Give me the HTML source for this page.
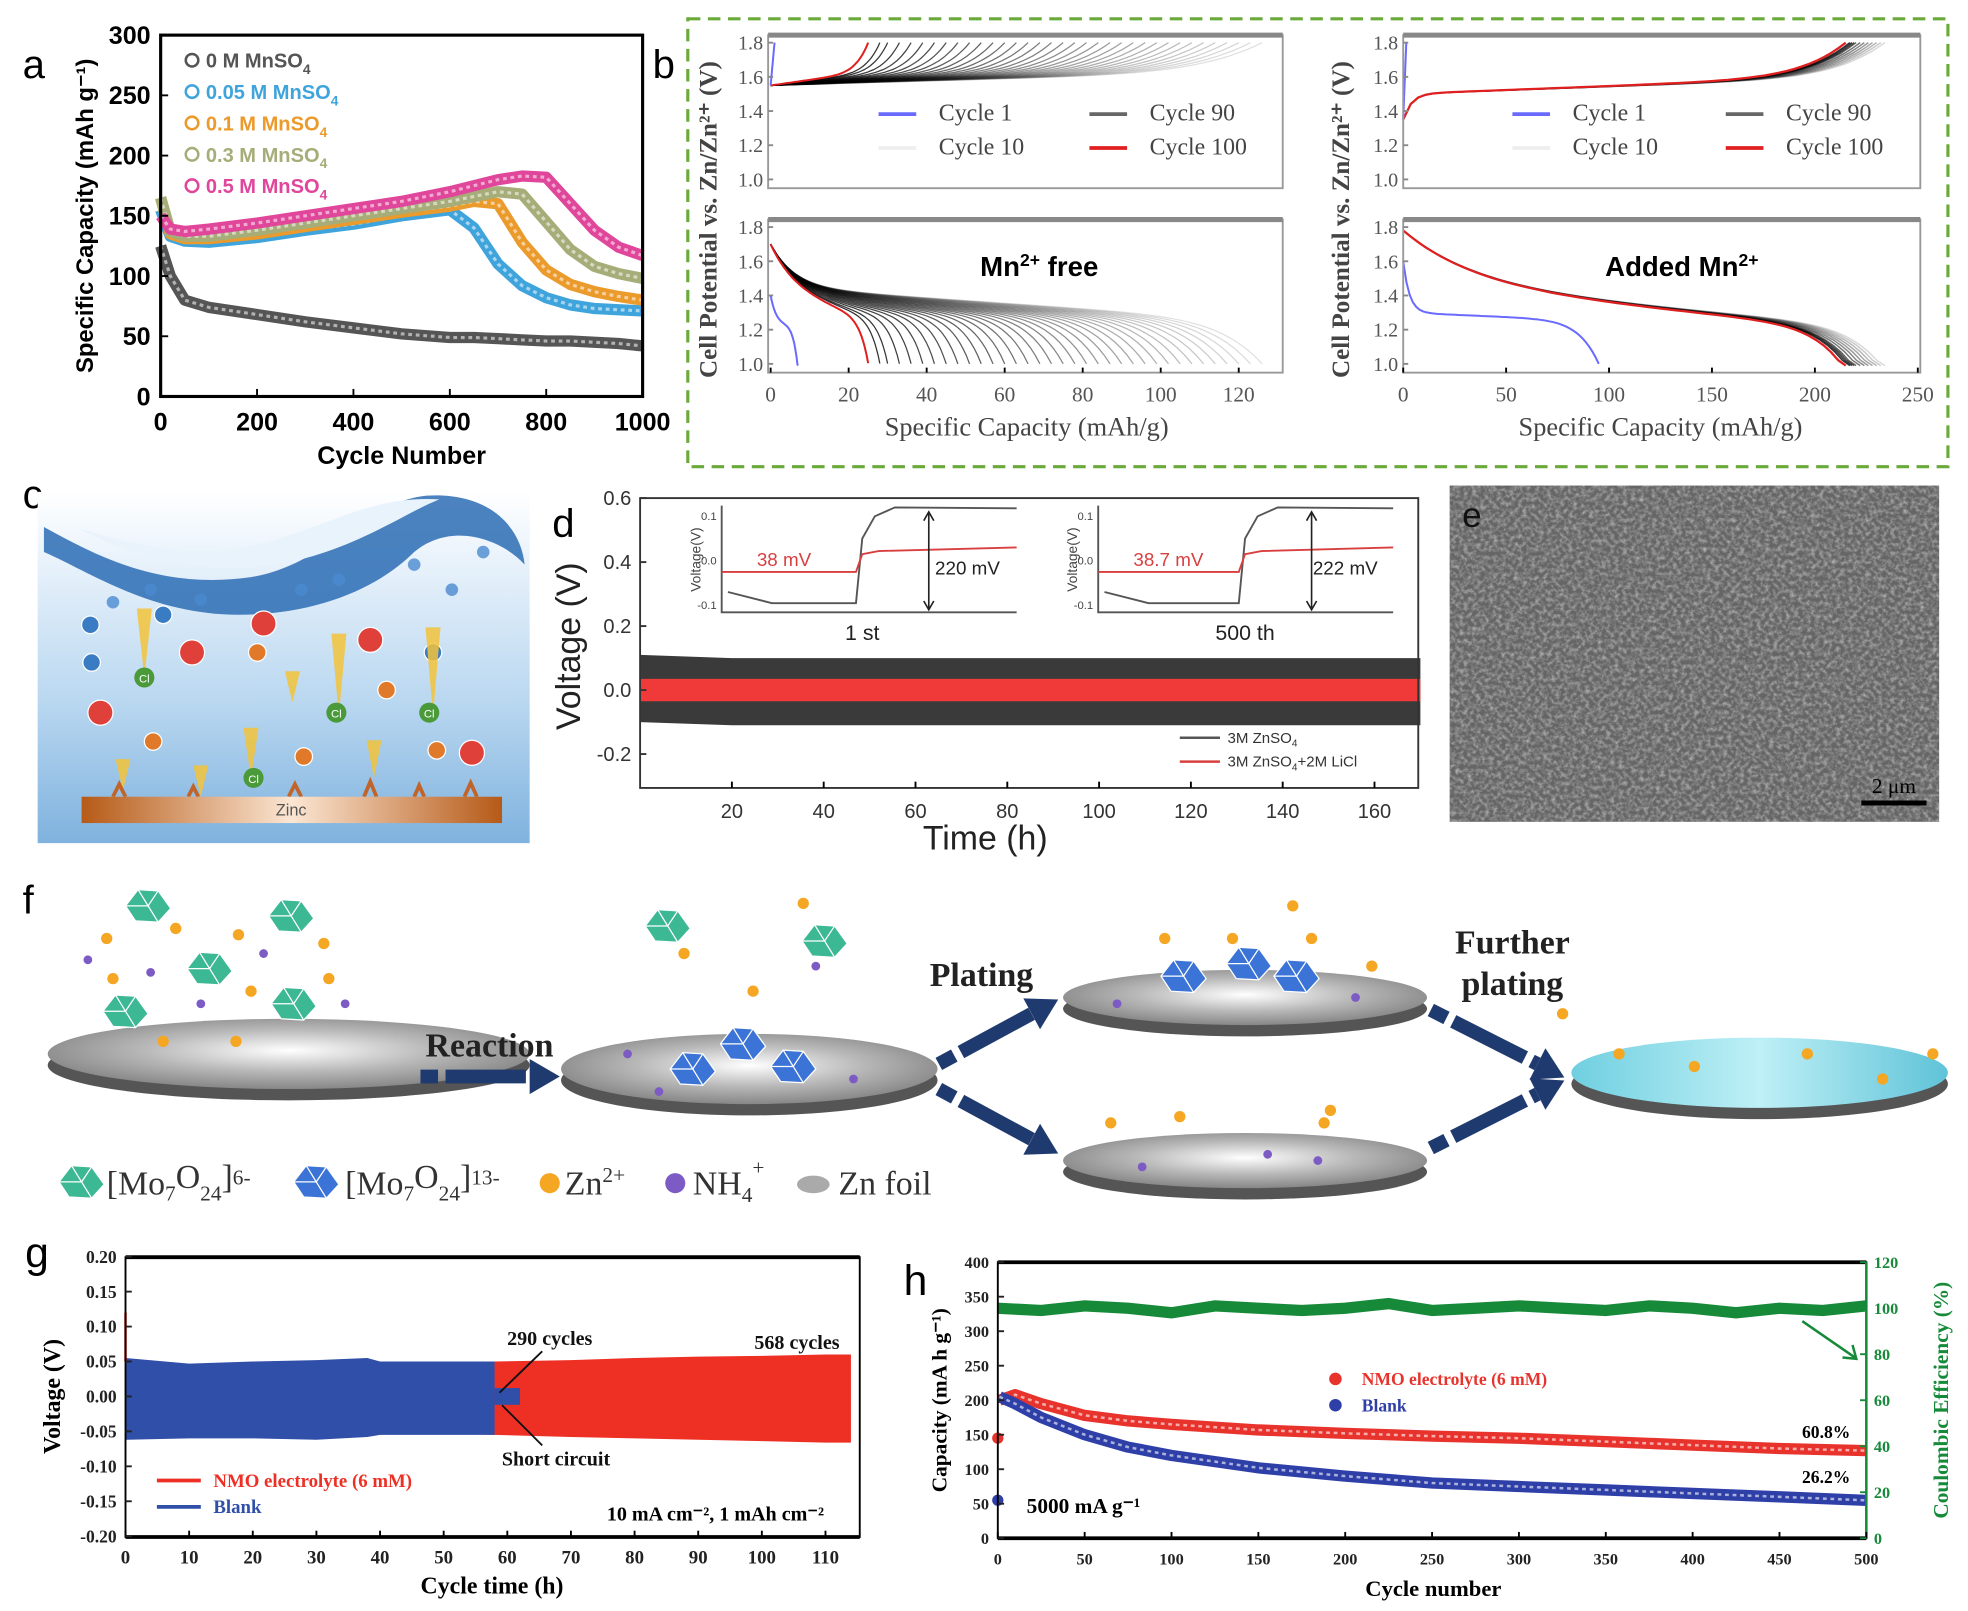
<!DOCTYPE html>
<html><head><meta charset="utf-8">
<style>
html,body{margin:0;padding:0;background:#fff;}
svg{display:block;}
text{font-family:"Liberation Sans",sans-serif;}
.serif{font-family:"Liberation Serif",serif;}
</style></head>
<body>
<svg id="fig" xmlns="http://www.w3.org/2000/svg" width="1968" height="1611" viewBox="0 0 1568 1284" preserveAspectRatio="none">
<defs>
<linearGradient id="water" x1="0" y1="0" x2="0" y2="1"><stop offset="0" stop-color="#ffffff"/><stop offset="0.2" stop-color="#e8f2fb"/><stop offset="0.6" stop-color="#b9d7f0"/><stop offset="1" stop-color="#7fb2de"/></linearGradient>
<linearGradient id="zinc" x1="0" y1="0" x2="1" y2="0"><stop offset="0" stop-color="#b65a17"/><stop offset="0.5" stop-color="#fbe6d3"/><stop offset="1" stop-color="#b65a17"/></linearGradient>
<radialGradient id="disc" cx="0.5" cy="0.45" r="0.6"><stop offset="0" stop-color="#ffffff"/><stop offset="0.5" stop-color="#b8b8b8"/><stop offset="1" stop-color="#7d7d7d"/></radialGradient>
<linearGradient id="cyan" x1="0" y1="0" x2="1" y2="0"><stop offset="0" stop-color="#6fcfe0"/><stop offset="0.5" stop-color="#bff0f6"/><stop offset="1" stop-color="#5fc3d8"/></linearGradient>
<filter id="sem" x="0" y="0" width="1" height="1"><feTurbulence type="fractalNoise" baseFrequency="0.3" numOctaves="3" seed="7"/><feColorMatrix type="matrix" values="0 0 0 0 0.66  0 0 0 0 0.66  0 0 0 0 0.66  1.3 0 0 0 -0.5"/><feComposite in2="SourceGraphic" operator="in"/></filter>
</defs>
<rect x="0" y="0" width="1568" height="1284" fill="#fff"/>
<g id="pa"></g>
<g id="pb"></g>
<g id="pc"></g>
<g id="pd"></g>
<g id="pe">
  <rect x="1155" y="387" width="390" height="268" fill="#656565"/>
  <rect x="1155" y="387" width="390" height="268" fill="#999" filter="url(#sem)"/>
  <text x="1165" y="420" font-size="28" fill="#111">e</text>
  <rect x="1483" y="638" width="52" height="4" fill="#000"/>
  <text x="1509" y="632" font-size="17" class="serif" text-anchor="middle" fill="#000">2 μm</text>
</g>
<g id="pf"></g>
<g id="pg"></g>
<g id="ph"></g>
</svg>
<script>
// ---------- data ----------
const aCycles=[0,20,50,100,200,300,400,500,600,650,700,750,800,850,900,950,1000];
const a0M=[125,100,80,74,68,62,57,52,49,49,48,47,46,46,45,44,42];
const a005M=[155,133,129,128,132,138,143,150,155,140,110,92,82,76,73,72,71];
const a01M=[165,135,131,131,135,141,147,153,158,162,160,128,105,93,87,83,80];
const a03M=[165,137,133,133,138,144,150,156,162,166,170,168,145,122,108,102,98];
const a05M=[150,139,137,139,144,150,156,162,170,175,180,183,182,160,138,124,117];
const aXTicks=[0,200,400,600,800,1000];
const aYTicks=[0,50,100,150,200,250,300];
const aLegend=["0 M MnSO","0.05 M MnSO","0.1 M MnSO","0.3 M MnSO","0.5 M MnSO"];

const bLeftCaps=[126,123,120,117,114,111,108,105,102,99,96,93,90,87,84,81,78,75,72,69,66,63,60,57,54,51,48,45,42,39,36,33,30,28];
const bLeftRedCap=25;
const bRightCaps=[234,232,230,228,226,224,222,220,219,218,217];
const bRightRedCap=215;
const bLeftXTicks=[0,20,40,60,80,100,120];
const bRightXTicks=[0,50,100,150,200,250];
const bYTicks=[1.0,1.2,1.4,1.6,1.8];

const dTimes=[0,20,40,60,80,100,120,140,160,170];
const dBlackTop=[0.11,0.10,0.10,0.10,0.10,0.10,0.10,0.10,0.10,0.10];
const dBlackBot=[-0.10,-0.11,-0.11,-0.11,-0.11,-0.11,-0.11,-0.11,-0.11,-0.11];
const dRedTop=[0.035,0.035,0.035,0.035,0.035,0.035,0.035,0.035,0.035,0.035];
const dRedBot=[-0.035,-0.035,-0.035,-0.035,-0.035,-0.035,-0.035,-0.035,-0.035,-0.035];
const dXTicks=[20,40,60,80,100,120,140,160];
const dYTicks=[-0.2,0.0,0.2,0.4,0.6];

const gBlueTimes=[0,10,20,30,38,40,50,58];
const gBlueTop=[0.055,0.047,0.05,0.052,0.055,0.05,0.05,0.05];
const gBlueBot=[-0.062,-0.06,-0.06,-0.062,-0.058,-0.055,-0.055,-0.055];
const gRedTimes=[38,58,70,80,90,100,110,114];
const gRedTop=[0.048,0.05,0.052,0.055,0.057,0.058,0.06,0.06];
const gRedBot=[-0.05,-0.055,-0.058,-0.06,-0.062,-0.064,-0.066,-0.066];
const gXTicks=[0,10,20,30,40,50,60,70,80,90,100,110];
const gYTicks=[-0.20,-0.15,-0.10,-0.05,0.00,0.05,0.10,0.15,0.20];

const hCycles=[1,10,25,50,75,100,150,200,250,300,350,400,450,500];
const hRed=[200,208,195,178,170,165,157,152,148,145,140,135,130,127];
const hBlue=[205,195,175,150,132,120,102,90,80,75,70,65,60,55];
const hCECycles=[0,25,50,75,100,125,150,175,200,225,250,275,300,325,350,375,400,425,450,475,500];
const hCE=[100,99,101,100,98,101,100,99,100,102,99,100,101,100,99,101,100,98,100,99,101];
const hXTicks=[0,50,100,150,200,250,300,350,400,450,500];
const hYTicks=[0,50,100,150,200,250,300,350,400];
const hY2Ticks=[0,20,40,60,80,100,120];

// ---------- helpers ----------
const NS='http://www.w3.org/2000/svg';
function el(tag,attrs,parent){const e=document.createElementNS(NS,tag);for(const k in attrs)e.setAttribute(k,attrs[k]);parent.appendChild(e);return e;}
function txt(x,y,s,attrs,parent){const t=el('text',Object.assign({x:x,y:y},attrs),parent);t.textContent=s;return t;}
function pts(xs,ys,fx,fy){return xs.map((x,i)=>fx(x).toFixed(1)+','+fy(ys[i]).toFixed(1)).join(' ');}
function band(xs,top,bot,fx,fy){let p=xs.map((x,i)=>fx(x)+','+fy(top[i]));for(let i=xs.length-1;i>=0;i--)p.push(fx(xs[i])+','+fy(bot[i]));return p.join(' ');}
function ticksX(vals,fx,y0,len,labY,fs,cls,fill,g,fmt){
  vals.forEach(v=>{
    const l=el('line',{x1:fx(v),x2:fx(v),y1:y0,y2:y0-len,stroke:'#000','stroke-width':1.5},g);
    
    
    const t=txt(fx(v),labY,fmt?fmt(v):String(v),{'font-size':fs,'text-anchor':'middle',class:cls,fill:fill},g);
    
    
  });
}
function ticksY(vals,fy,x0,len,labX,fs,cls,fill,g,fmt,anchor){
  vals.forEach(v=>{
    const l=el('line',{x1:x0,x2:x0+len,y1:fy(v),y2:fy(v),stroke:fill==='#555'?'#888':fill,'stroke-width':1.5},g);
    
    
    const t=txt(labX,fy(v)+fs*0.35,fmt?fmt(v):String(v),{'font-size':fs,'text-anchor':anchor||'end',class:cls,fill:fill},g);
    
    
  });
}

// ---------- panel a ----------
(function(){
const g=document.getElementById('pa');
const ax=v=>128+v/1000*384, ay=v=>316-v/300*288;
const lab=txt(18,62,'a',{'font-size':32},g);


const series=[[a0M,'#555555'],[a005M,'#3fa4dc'],[a01M,'#eb9a2c'],[a03M,'#a6ad78'],[a05M,'#e0469a']];
const names=['series-0M','series-0.05M','series-0.1M','series-0.3M','series-0.5M'];
series.forEach((s,i)=>{
  const p=el('polyline',{points:pts(aCycles,s[0],ax,ay),fill:'none',stroke:s[1],'stroke-width':9,'stroke-linejoin':'round'},g);
  
  
  const q=el('polyline',{points:pts(aCycles,s[0],ax,ay),fill:'none',stroke:'#fff','stroke-width':2.5,opacity:0.55,'stroke-dasharray':'3 3'},g);
  
  
});
const box=el('rect',{x:128,y:28,width:384,height:288,fill:'none',stroke:'#000','stroke-width':2.5},g);


ticksX(aXTicks,ax,316,6,343,20,'','#000',g);
ticksY(aYTicks,ay,128,6,120,20,'','#000',g);
g.querySelectorAll('text').forEach(t=>{if(t!==lab)t.setAttribute('font-weight','bold');});
const yt=txt(0,0,'Specific Capacity (mAh g⁻¹)',{'font-size':19,'font-weight':'bold','text-anchor':'middle',transform:'translate(74,172) rotate(-90)'},g);


const xt=txt(320,370,'Cycle Number',{'font-size':20,'font-weight':'bold','text-anchor':'middle'},g);


aLegend.forEach((s,i)=>{
  const y=48+25*i;
  const c=el('circle',{cx:153,cy:y,r:5,fill:'none',stroke:series[i][1],'stroke-width':2},g);
  
  
  const t=txt(164,y+6,s,{'font-size':16,'font-weight':'bold',fill:series[i][1]},g);
  
  
  const sub=el('tspan',{dy:5,'font-size':11},t);sub.textContent='4';
});
})();

// ---------- panel b ----------
(function(){
const g=document.getElementById('pb');
const frame=el('rect',{x:548,y:15,width:1004,height:357,fill:'none',stroke:'#6aaa3a','stroke-width':2.5,'stroke-dasharray':'10 6'},g);


const lab=txt(520,62,'b',{'font-size':32},g);


const subs=[
 {x0:612,x1:1022,y0:28,y1:150,xs:v=>614+v*3.108,top:true,left:true},
 {x0:612,x1:1022,y0:175,y1:297,xs:v=>614+v*3.108,top:false,left:true},
 {x0:1118,x1:1530,y0:28,y1:150,xs:v=>1118+v*1.64,top:true,left:false},
 {x0:1118,x1:1530,y0:175,y1:297,xs:v=>1118+v*1.64,top:false,left:false}];
function curve(sp,f,Q,color,op,w,name){
  const fy=v=>sp.y0+6+(1.8-v)/0.8*(sp.y1-sp.y0-13);
  const p=[];for(let i=0;i<=60;i++){const x=Q*i/60;let v=f(x,Q);v=Math.max(0.99,Math.min(1.8,v));p.push(sp.xs(x).toFixed(1)+','+fy(v).toFixed(1));}
  const l=el('polyline',{points:p.join(' '),fill:'none',stroke:color,'stroke-opacity':op,'stroke-width':w},g);
  
  
}
const fLC=(x,Q)=>1.55+0.08*(x/Q)+0.17*Math.pow(x/Q,8);
const fLD=(x,Q)=>1.7-0.25*(1-Math.exp(-x/6))-0.2*(x/Q)-0.25*Math.pow(x/Q,12);
const fRC=(x,Q)=>1.35+0.15*(1-Math.exp(-x/4))+0.1*(x/Q)+0.2*Math.pow(x/Q,10);
const fRD=(x,Q)=>1.78-0.32*(1-Math.exp(-x/35))-0.25*(x/Q)-0.25*Math.pow(x/Q,15);
bLeftCaps.forEach((Q,i)=>{const op=0.12+0.7*i/bLeftCaps.length;
  curve(subs[0],fLC,Q,'#000',op,1,'charge-curve-cycle');
  curve(subs[1],fLD,Q,'#000',op,1,'discharge-curve-cycle');});
curve(subs[0],fLC,bLeftRedCap,'#e02020',1,1.6,'charge-curve-cycle-100');
curve(subs[1],fLD,bLeftRedCap,'#e02020',1,1.6,'discharge-curve-cycle-100');
curve(subs[1],(x,Q)=>1.4-0.18*(1-Math.exp(-x/1.5))-0.25*Math.pow(x/Q,6),7,'#6a6aff',1,1.6,'discharge-curve-cycle-1');
curve(subs[0],(x,Q)=>1.55+0.25*x/Q,1,'#6a6aff',1,1.6,'charge-curve-cycle-1');
bRightCaps.forEach((Q,i)=>{const op=0.15+0.7*i/bRightCaps.length;
  curve(subs[2],fRC,Q,'#000',op,1.2,'charge-curve-cycle');
  curve(subs[3],fRD,Q,'#000',op,1.2,'discharge-curve-cycle');});
curve(subs[2],fRC,bRightRedCap,'#e02020',1,1.8,'charge-curve-cycle-100');
curve(subs[3],fRD,bRightRedCap,'#e02020',1,1.8,'discharge-curve-cycle-100');
curve(subs[3],(x,Q)=>1.6-0.3*(1-Math.exp(-x/3))-0.05*(x/Q)-0.25*Math.pow(x/Q,10),95,'#6a6aff',1,1.6,'discharge-curve-cycle-1');
curve(subs[2],(x,Q)=>1.35+0.45*x/Q,1.5,'#6a6aff',1,1.6,'charge-curve-cycle-1');
subs.forEach(sp=>{
  const r=el('rect',{x:sp.x0,y:sp.y0,width:sp.x1-sp.x0,height:sp.y1-sp.y0,fill:'none',stroke:'#999','stroke-width':1.5},g);
  
  
  const tb=el('line',{x1:sp.x0,x2:sp.x1,y1:sp.y0,y2:sp.y0,stroke:'#888','stroke-width':4},g);
  
  
  const fy=v=>sp.y0+6+(1.8-v)/0.8*(sp.y1-sp.y0-13);
  ticksY(bYTicks,fy,sp.x0,4,sp.x0-4,16,'serif','#555',g,v=>v.toFixed(1));
});
ticksX(bLeftXTicks,subs[1].xs,297,4,320,17,'serif','#555',g);
ticksX(bRightXTicks,subs[3].xs,297,4,320,17,'serif','#555',g);
[[818,'left'],[1323,'right']].forEach(a=>{
  const t=txt(a[0],347,'Specific Capacity (mAh/g)',{'font-size':21,'text-anchor':'middle',class:'serif',fill:'#444'},g);
  
  
});
[[571,'left'],[1075,'right']].forEach(a=>{
  const t=txt(0,0,'Cell Potential vs. Zn/Zn²⁺ (V)',{'font-size':20,'font-weight':'bold','text-anchor':'middle',class:'serif',fill:'#444',transform:'translate('+a[0]+',175) rotate(-90)'},g);
  
  
});
[[700,868],[1205,1375]].forEach(p=>{
  const items=[[p[0],96,'#6a6aff','Cycle 1'],[p[1],96,'#666','Cycle 90'],[p[0],123,'#eee','Cycle 10'],[p[1],123,'#e02020','Cycle 100']];
  items.forEach(it=>{
    const l=el('line',{x1:it[0],x2:it[0]+30,y1:it[1]-5,y2:it[1]-5,stroke:it[2],'stroke-width':3},g);
    
    
    const t=txt(it[0]+48,it[1],it[3],{'font-size':19,class:'serif',fill:'#444'},g);
    
    
  });
});
const t1=txt(828,220,'Mn',{'font-size':22,'font-weight':'bold','text-anchor':'middle'},g);


let s=el('tspan',{dy:-8,'font-size':14},t1);s.textContent='2+';
s=el('tspan',{dy:8},t1);s.textContent=' free';
const t2=txt(1340,220,'Added Mn',{'font-size':22,'font-weight':'bold','text-anchor':'middle'},g);


s=el('tspan',{dy:-8,'font-size':14},t2);s.textContent='2+';
})();

// ---------- panel c ----------
(function(){
const g=document.getElementById('pc');
const lab=txt(18,405,'c',{'font-size':32},g);


const bg=el('rect',{x:30,y:392,width:392,height:280,fill:'url(#water)'},g);


const wave=el('path',{d:'M35,420 C80,445 130,470 200,460 C260,450 290,400 340,395 C390,392 415,420 418,450 C400,430 360,415 330,440 C300,470 250,490 190,490 C120,490 70,455 35,440 Z',fill:'#2b6cb4',opacity:0.85},g);


const wave2=el('path',{d:'M60,420 C120,440 170,445 220,430 C270,415 300,395 350,398 C320,410 280,440 220,450 C150,460 100,440 60,420 Z',fill:'#e9f3fb'},g);


[[90,480],[120,470],[160,478],[240,470],[270,462],[330,450],[360,470],[385,440]].forEach(b=>{
  const c=el('circle',{cx:b[0],cy:b[1],r:5,fill:'#4a8ad0',opacity:0.8},g);
  
  
});
const balls=[[210,497,'#e0403a'],[295,510,'#e0403a'],[153,520,'#e0403a'],[80,568,'#e0403a'],[376,600,'#e0403a'],[72,498,'#3a7cc4'],[73,528,'#3a7cc4'],[130,490,'#3a7cc4'],[345,520,'#3a7cc4'],[205,520,'#e07a2a'],[122,591,'#e07a2a'],[242,603,'#e07a2a'],[348,598,'#e07a2a'],[308,550,'#e07a2a']];
balls.forEach(b=>{
  const c=el('circle',{cx:b[0],cy:b[1],r:b[2]==='#e0403a'?10:7,fill:b[2],stroke:'#fff','stroke-width':1},g);
  
  
});
[[115,485,540],[270,505,570],[345,500,570],[200,580,620],[233,535,560],[98,605,630],[160,610,635],[298,590,620]].forEach(k=>{
  const p=el('polygon',{points:(k[0]-6)+','+k[1]+' '+(k[0]+6)+','+k[1]+' '+k[0]+','+k[2],fill:'#f2c33a',opacity:0.85},g);
  
  
});
[[115,540],[268,568],[342,568],[202,620]].forEach(k=>{
  const c=el('circle',{cx:k[0],cy:k[1],r:8,fill:'#4a9a3a'},g);
  
  
  const t=txt(k[0],k[1]+4,'Cl',{'font-size':9,'text-anchor':'middle',fill:'#fff'},g);
  
  
});
const dend=el('path',{d:'M90,635 l5,-10 l5,10 M150,635 l4,-8 l4,8 M230,635 l5,-10 l5,10 M290,635 l5,-12 l5,12 M330,635 l4,-9 l4,9 M370,635 l5,-11 l5,11',stroke:'#c0642a','stroke-width':3,fill:'none'},g);


const zn=el('rect',{x:65,y:635,width:335,height:21,fill:'url(#zinc)'},g);


const zt=txt(232,650,'Zinc',{'font-size':13,'text-anchor':'middle',fill:'#555'},g);


})();

// ---------- panel d ----------
(function(){
const g=document.getElementById('pd');
const dx=h=>510+h*3.657, dy=v=>550-v*255;
const lab=txt(440,428,'d',{'font-size':32},g);


const b1=el('polygon',{points:band(dTimes,dBlackTop,dBlackBot,dx,dy),fill:'#3a3a3a'},g);


const b2=el('polygon',{points:band(dTimes,dRedTop,dRedBot,dx,dy),fill:'#f03a3a'},g);


const box=el('rect',{x:510,y:397,width:620,height:231,fill:'none',stroke:'#333','stroke-width':1.5},g);


ticksX(dXTicks,dx,628,5,652,16,'','#333',g);
ticksY(dYTicks,dy,510,5,503,16,'','#333',g,v=>v.toFixed(1));
const yt=txt(0,0,'Voltage (V)',{'font-size':27,'text-anchor':'middle',fill:'#222',transform:'translate(462,515) rotate(-90)'},g);


const xt=txt(785,677,'Time (h)',{'font-size':27,'text-anchor':'middle',fill:'#222'},g);


[[575,685,'38 mV','220 mV','1 st',742],[875,990,'38.7 mV','222 mV','500 th',1043]].forEach(ins=>{
  const x0=ins[0],x1=x0+235,st=ins[1],iy=v=>447-v*355;
  const f=el('path',{d:'M'+x0+',403 V488 H'+x1,fill:'none',stroke:'#555','stroke-width':1.5},g);
  
  
  const k=el('polyline',{points:[x0+5,iy(-0.07),x0+40,iy(-0.095),st-3,iy(-0.095),st+2,iy(0.05),st+12,iy(0.1),st+28,iy(0.12),x1,iy(0.118)].reduce((a,v,i)=>a+(i%2?','+v:' '+v),''),fill:'none',stroke:'#555','stroke-width':1.5},g);
  
  
  const r=el('polyline',{points:[x0,iy(-0.025),st-3,iy(-0.025),st+2,iy(0.015),st+15,iy(0.022),x1,iy(0.03)].reduce((a,v,i)=>a+(i%2?','+v:' '+v),''),fill:'none',stroke:'#d84040','stroke-width':1.5},g);
  
  
  [[0.1,'0.1'],[0.0,'0.0'],[-0.1,'-0.1']].forEach(tk=>{
    const t=txt(x0-4,iy(tk[0])+3,tk[1],{'font-size':9,'text-anchor':'end',fill:'#444'},g);
    
    
  });
  const yl=txt(0,0,'Voltage(V)',{'font-size':11,'text-anchor':'middle',fill:'#444',transform:'translate('+(x0-17)+',446) rotate(-90)'},g);
  
  
  const ar=el('path',{d:'M'+(st+55)+',409 V485 M'+(st+51)+',415 L'+(st+55)+',408 L'+(st+59)+',415 M'+(st+51)+',479 L'+(st+55)+',486 L'+(st+59)+',479',stroke:'#222','stroke-width':1.3,fill:'none'},g);
  
  
  const m1=txt(x0+28,451,ins[2],{'font-size':15,fill:'#d84040'},g);
  
  
  const m2=txt(ins[5]+3,458,ins[3],{'font-size':15,fill:'#222'},g);
  
  
  const c=txt(st+2,510,ins[4],{'font-size':17,'text-anchor':'middle',fill:'#222'},g);
  
  
});
[[592,'#555','3M ZnSO'],[611,'#d84040','3M ZnSO']].forEach((it,i)=>{
  const l=el('line',{x1:940,x2:972,y1:it[0]-4,y2:it[0]-4,stroke:it[1],'stroke-width':2},g);
  
  
  const t=txt(978,it[0],it[2],{'font-size':12,fill:'#333'},g);
  
  
  let s=el('tspan',{dy:3,'font-size':8},t);s.textContent='4';
  if(i===1){s=el('tspan',{dy:-3},t);s.textContent='+2M LiCl';}
});
})();

// ---------- panel f ----------
(function(){
const g=document.getElementById('pf');
const lab=txt(18,728,'f',{'font-size':32},g);


function disc(cx,cy,rx,ry,top,name){
  const s=el('ellipse',{cx:cx,cy:cy+9,rx:rx,ry:ry,fill:'#555'},g);
  
  
  const t=el('ellipse',{cx:cx,cy:cy,rx:rx,ry:ry,fill:top},g);
  
  
}
disc(230,840,192,28,'url(#disc)','zn-foil-disc');
disc(597,852,150,28,'url(#disc)','reacted-disc');
disc(992,795,145,22,'url(#disc)','plated-disc-top');
disc(992,925,145,22,'url(#disc)','plated-disc-bottom');
disc(1402,855,150,28,'url(#cyan)','further-plated-disc');
function cluster(x,y,c,name){
  const p=el('polygon',{points:[x-18,y,x-8,y-13,x+8,y-12,x+18,y+2,x+8,y+13,x-10,y+12].join(' '),fill:c,stroke:'#fff','stroke-width':1},g);
  
  
  const l=el('path',{d:'M'+(x-8)+','+(y-13)+' L'+x+','+y+' L'+(x+8)+','+(y-12)+' M'+x+','+y+' L'+(x+8)+','+(y+13)+' M'+x+','+y+' L'+(x-18)+','+y,stroke:'#fff','stroke-width':1,fill:'none'},g);
  
  
}
[[118,722],[232,730],[167,772],[100,806],[234,800],[532,738],[657,750]].forEach(p=>cluster(p[0],p[1],'#3cb894','green-mo7o24-cluster'));
[[552,852],[592,832],[632,850],[943,778],[995,768],[1033,778]].forEach(p=>cluster(p[0],p[1],'#3b74d6','blue-mo7o24-cluster'));
[[85,748],[140,740],[190,745],[258,752],[90,780],[200,790],[262,780],[130,830],[188,830],[545,760],[640,720],[600,790],[928,748],[982,748],[1045,748],[1093,770],[1030,722],[885,895],[940,890],[1055,895],[1060,885],[1245,808],[1290,840],[1350,850],[1440,840],[1500,860],[1540,840]].forEach(p=>{
  const c=el('circle',{cx:p[0],cy:p[1],r:4.5,fill:'#f5a623'},g);
  
  
});
[[70,765],[120,775],[210,760],[160,800],[275,800],[650,770],[500,840],[680,860],[525,870],[890,800],[1080,795],[910,930],[1010,920],[1050,925]].forEach(p=>{
  const c=el('circle',{cx:p[0],cy:p[1],r:3.5,fill:'#7c5cc4'},g);
  
  
});
function arrow(x1,y1,x2,y2,name){
  const l=el('line',{x1:x1,y1:y1,x2:x2,y2:y2,stroke:'#1f3a6e','stroke-width':11,'stroke-dasharray':'14 6 50 0'},g);
  
  
  const a=Math.atan2(y2-y1,x2-x1),L=24,W=14;
  const hx=x2+Math.cos(a)*L,hy=y2+Math.sin(a)*L;
  const h=el('polygon',{points:[hx,hy,x2-Math.sin(a)*W,y2+Math.cos(a)*W,x2+Math.sin(a)*W,y2-Math.cos(a)*W].join(' '),fill:'#1f3a6e'},g);
  
  
}
arrow(335,858,422,858,'reaction-arrow');
arrow(748,848,822,808,'plating-arrow-up');
arrow(748,868,822,908,'plating-arrow-down');
arrow(1140,805,1225,848,'further-plating-arrow-up');
arrow(1140,915,1225,872,'further-plating-arrow-down');
[[390,842,'Reaction'],[782,786,'Plating'],[1205,760,'Further'],[1205,793,'plating']].forEach(t=>{
  const e=txt(t[0],t[1],t[2],{'font-size':27,'font-weight':'bold','text-anchor':'middle',class:'serif',fill:'#222'},g);
  
  
});
cluster(65,942,'#3cb894','legend-green-icon');
cluster(252,942,'#3b74d6','legend-blue-icon');
const ls=[[85,'[Mo',[['7',5],['O',-5],['24',5],[']',-5],['6-',-8]]],[275,'[Mo',[['7',5],['O',-5],['24',5],[']',-5],['13-',-8]]],[450,'Zn',[['2+',-10]]],[552,'NH',[['4',6],['+',-16]]],[668,'Zn foil',[]]];
ls.forEach(it=>{
  const t=txt(it[0],952,it[1],{'font-size':27,class:'serif',fill:'#333'},g);
  
  
  let acc=0;
  it[2].forEach(p=>{const s=el('tspan',{dy:p[1]-acc,'font-size':(p[0]==='O'||p[0]===']')?27:17},t);s.textContent=p[0];acc=p[1];});
});
const oz=el('circle',{cx:438,cy:943,r:8,fill:'#f5a623'},g);


const pn=el('circle',{cx:538,cy:943,r:8,fill:'#7c5cc4'},g);


const ze=el('ellipse',{cx:648,cy:944,rx:13,ry:7,fill:'#aaa'},g);


})();

// ---------- panel g ----------
(function(){
const g=document.getElementById('pg');
const gx=h=>100+h*5.07, gy=v=>1113-v*557;
const lab=txt(20,1010,'g',{'font-size':34},g);


const r=el('polygon',{points:band(gRedTimes,gRedTop,gRedBot,gx,gy),fill:'#ee2f24'},g);


const b=el('polygon',{points:band(gBlueTimes,gBlueTop,gBlueBot,gx,gy),fill:'#2f4fa8'},g);


const sc=el('rect',{x:gx(58),y:gy(0.012),width:gx(62)-gx(58),height:gy(-0.012)-gy(0.012),fill:'#2f4fa8'},g);


const sp=el('line',{x1:gx(0),x2:gx(0),y1:gy(0.12),y2:gy(0.05),stroke:'#ee2f24','stroke-width':2},g);


const f=el('rect',{x:100,y:1002,width:585,height:223,fill:'none',stroke:'#000','stroke-width':1.5},g);


['1002','1225'].forEach(y=>{const l=el('line',{x1:100,x2:685,y1:y,y2:y,stroke:'#000','stroke-width':3},g);
  
  });
ticksX(gXTicks,gx,1225,5,1246,15,'serif','#222',g);
ticksY(gYTicks,gy,100,5,93,14,'serif','#222',g,v=>v.toFixed(2));
g.querySelectorAll('text').forEach(t=>{if(t!==lab)t.setAttribute('font-weight','bold');});
const yt=txt(0,0,'Voltage (V)',{'font-size':19,'font-weight':'bold','text-anchor':'middle',class:'serif',transform:'translate(48,1113) rotate(-90)'},g);


const xt=txt(392,1270,'Cycle time (h)',{'font-size':19,'font-weight':'bold','text-anchor':'middle',class:'serif'},g);


[[1185,'#ee2f24','NMO electrolyte (6 mM)'],[1206,'#2f4fa8','Blank']].forEach(it=>{
  const l=el('line',{x1:125,x2:160,y1:it[0]-5,y2:it[0]-5,stroke:it[1],'stroke-width':3},g);
  
  
  const t=txt(170,it[0],it[2],{'font-size':15,'font-weight':'bold',class:'serif',fill:it[1]},g);
  
  
});
[[438,1072,'290 cycles'],[635,1075,'568 cycles'],[443,1168,'Short circuit']].forEach(a=>{
  const t=txt(a[0],a[1],a[2],{'font-size':16,'font-weight':'bold','text-anchor':'middle',class:'serif',fill:'#111'},g);
  
  
});
const cond=txt(570,1212,'10 mA cm⁻², 1 mAh cm⁻²',{'font-size':16,'font-weight':'bold','text-anchor':'middle',class:'serif'},g);


const al=el('path',{d:'M432,1077 L398,1110 M400,1120 L432,1152',stroke:'#111','stroke-width':1.5,fill:'none'},g);


})();

// ---------- panel h ----------
(function(){
const g=document.getElementById('ph');
const hx=c=>795+c/500*692, hy=v=>1226-v/400*220, hy2=v=>1226-v/120*220;
const lab=txt(720,1032,'h',{'font-size':34},g);


const ce=el('polyline',{points:pts(hCECycles,hCE,hx,hy2),fill:'none',stroke:'#178a3a','stroke-width':9},g);


[[hRed,'#e8332d','series-nmo-capacity'],[hBlue,'#2f3fa8','series-blank-capacity']].forEach(s=>{
  const p=el('polyline',{points:pts(hCycles,s[0],hx,hy),fill:'none',stroke:s[1],'stroke-width':9,'stroke-linejoin':'round'},g);
  
  
  const q=el('polyline',{points:pts(hCycles,s[0],hx,hy),fill:'none',stroke:'#fff','stroke-width':2,opacity:0.6,'stroke-dasharray':'3 3'},g);
  
  
});
const o1=el('circle',{cx:hx(0),cy:hy(145),r:4.5,fill:'#e8332d'},g);


const o2=el('circle',{cx:hx(0),cy:hy(55),r:4.5,fill:'#2f3fa8'},g);


const f=el('rect',{x:795,y:1006,width:692,height:220,fill:'none',stroke:'#000','stroke-width':1.5},g);


['1006','1226'].forEach(y=>{const l=el('line',{x1:795,x2:1487,y1:y,y2:y,stroke:'#000','stroke-width':3},g);
  
  });
const ra=el('line',{x1:1487,x2:1487,y1:1006,y2:1226,stroke:'#178a3a','stroke-width':2},g);


ticksX(hXTicks,hx,1226,5,1247,13,'serif','#222',g);
ticksY(hYTicks,hy,795,5,788,13,'serif','#222',g);
ticksY(hY2Ticks,hy2,1482,5,1493,13,'serif','#178a3a',g,null,'start');
g.querySelectorAll('text').forEach(t=>{if(t!==lab)t.setAttribute('font-weight','bold');});
const yt=txt(0,0,'Capacity (mA h g⁻¹)',{'font-size':17,'font-weight':'bold','text-anchor':'middle',class:'serif',transform:'translate(754,1116) rotate(-90)'},g);


const y2=txt(0,0,'Coulombic Efficiency (%)',{'font-size':17,'font-weight':'bold','text-anchor':'middle',class:'serif',fill:'#178a3a',transform:'translate(1552,1116) rotate(-90)'},g);


const xt=txt(1142,1272,'Cycle number',{'font-size':18,'font-weight':'bold','text-anchor':'middle',class:'serif'},g);


[[1104,'#e8332d','NMO electrolyte (6 mM)'],[1125,'#2f3fa8','Blank']].forEach(it=>{
  const c=el('circle',{cx:1064,cy:it[0]-5,r:5,fill:it[1]},g);
  
  
  const t=txt(1085,it[0],it[2],{'font-size':14,'font-weight':'bold',class:'serif',fill:it[1]},g);
  
  
});
[[1455,1146,'60.8%'],[1455,1182,'26.2%']].forEach(a=>{
  const t=txt(a[0],a[1],a[2],{'font-size':14,'font-weight':'bold','text-anchor':'middle',class:'serif'},g);
  
  
});
const rate=txt(818,1206,'5000 mA g⁻¹',{'font-size':17,'font-weight':'bold',class:'serif'},g);


const ga=el('path',{d:'M1436,1053 L1478,1082 M1468,1082 L1479,1083 L1476,1072',stroke:'#178a3a','stroke-width':2,fill:'none'},g);


})();
</script>
</body></html>
